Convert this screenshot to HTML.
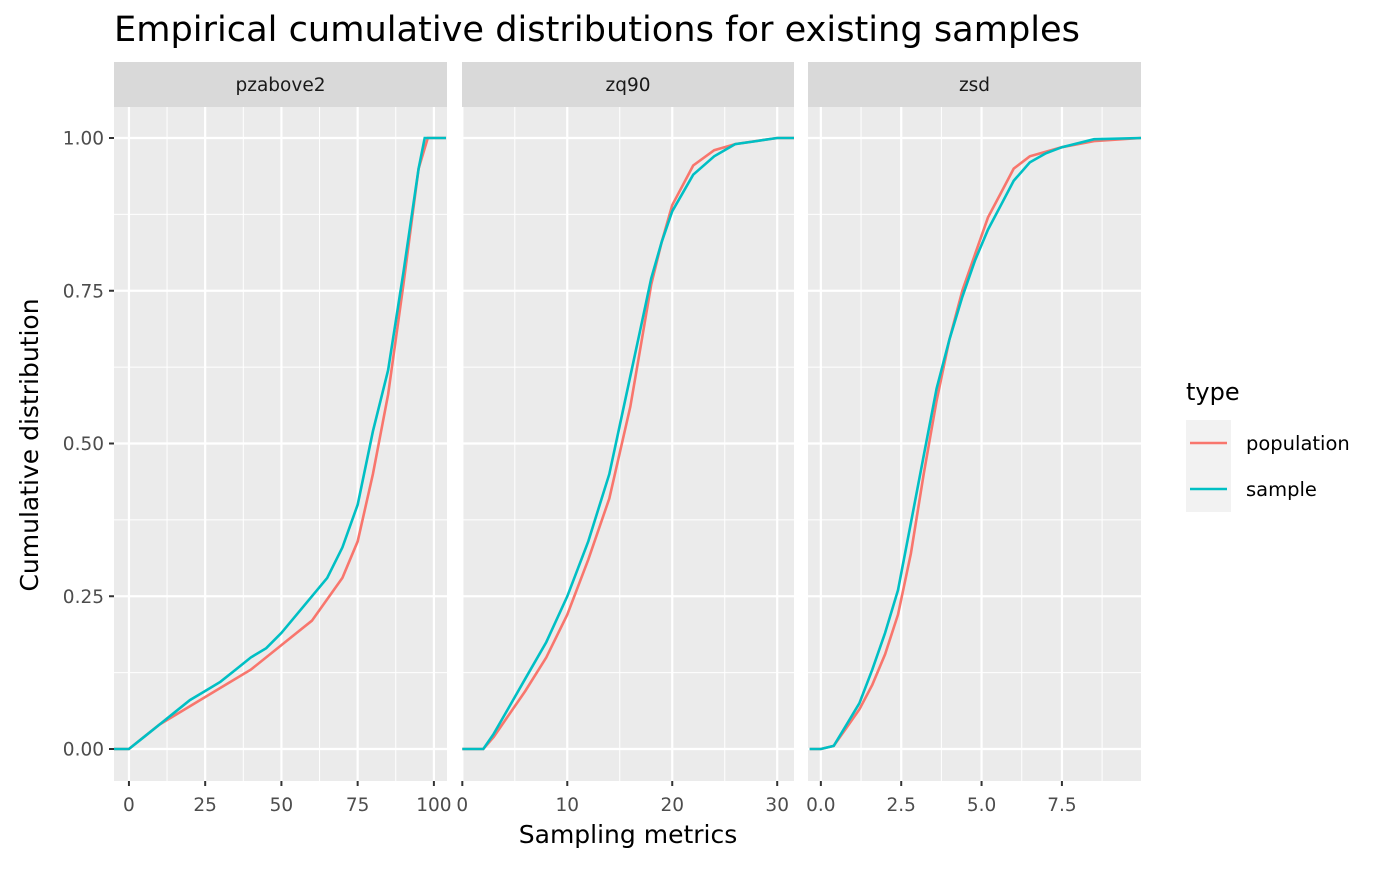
<!DOCTYPE html>
<html><head><meta charset="utf-8"><style>
body{margin:0;background:#fff}
svg text{font-family:"DejaVu Sans","Liberation Sans",sans-serif}
</style></head><body>
<svg id="chart" width="1400" height="865" xmlns="http://www.w3.org/2000/svg">
<text x="114" y="41" font-size="35" textLength="966" lengthAdjust="spacingAndGlyphs" fill="#000">Empirical cumulative distributions for existing samples</text>
<text transform="translate(38,445) rotate(-90)" text-anchor="middle" font-size="25" fill="#000">Cumulative distribution</text>
<text x="628" y="843" text-anchor="middle" font-size="25" fill="#000">Sampling metrics</text>
<g>
<text x="1186" y="400" font-size="24" fill="#000">type</text>
<rect x="1186" y="420" width="45" height="46" fill="#f2f2f2"/>
<rect x="1186" y="466" width="45" height="46" fill="#f2f2f2"/>
<line x1="1190" x2="1227" y1="443" y2="443" stroke="#F8766D" stroke-width="2.5"/>
<line x1="1190" x2="1227" y1="489" y2="489" stroke="#00BFC4" stroke-width="2.5"/>
<text x="1246" y="450" font-size="19.5" fill="#000">population</text>
<text x="1246" y="496" font-size="19.5" fill="#000">sample</text>
</g>
<g id="panels"></g>
</svg>
<script>
const yTicks=[0,0.25,0.5,0.75,1];
const yTickLabels=["0.00","0.25","0.50","0.75","1.00"];
const panelNames=["pzabove2","zq90","zsd"];
const xTicks1=[0,25,50,75,100];const xLabels1=["0","25","50","75","100"];
const xTicks2=[0,10,20,30];const xLabels2=["0","10","20","30"];
const xTicks3=[0,2.5,5,7.5];const xLabels3=["0.0","2.5","5.0","7.5"];
const pop1X=[-5,0,10,20,30,40,50,60,70,75,80,85,90,95,98,104];
const pop1Y=[0,0,0.04,0.07,0.1,0.13,0.17,0.21,0.28,0.34,0.45,0.58,0.76,0.95,1,1];
const smp1X=[-5,0,5,10,15,20,25,30,35,40,45,50,55,60,65,70,75,80,85,90,95,97,104];
const smp1Y=[0,0,0.02,0.04,0.06,0.08,0.095,0.11,0.13,0.15,0.165,0.19,0.22,0.25,0.28,0.33,0.4,0.52,0.62,0.78,0.95,1,1];
const pop2X=[0,2,3,4,6,8,10,12,14,16,17,18,19,20,22,24,26,30,31.6];
const pop2Y=[0,0,0.02,0.045,0.095,0.15,0.22,0.31,0.41,0.56,0.66,0.76,0.83,0.89,0.955,0.98,0.99,1,1];
const smp2X=[0,2,3,4,6,8,10,12,14,15,16,17,18,19,20,22,24,26,28,30,31.6];
const smp2Y=[0,0,0.025,0.055,0.115,0.175,0.25,0.34,0.45,0.53,0.61,0.69,0.77,0.83,0.88,0.94,0.97,0.99,0.995,1,1];
const pop3X=[-0.35,0,0.4,0.8,1.2,1.6,2,2.4,2.8,3.2,3.6,4,4.4,4.8,5.2,5.6,6,6.5,7.5,8.5,9.96];
const pop3Y=[0,0,0.005,0.035,0.065,0.105,0.155,0.22,0.32,0.45,0.57,0.67,0.75,0.81,0.87,0.91,0.95,0.97,0.985,0.995,1];
const smp3X=[-0.35,0,0.4,0.8,1.2,1.6,2,2.4,2.8,3.2,3.6,4,4.4,4.8,5.2,5.6,6,6.5,7,7.5,8.5,9.96];
const smp3Y=[0,0,0.005,0.04,0.075,0.13,0.19,0.26,0.37,0.48,0.59,0.67,0.74,0.8,0.85,0.89,0.93,0.96,0.975,0.985,0.998,1];

const NS="http://www.w3.org/2000/svg";
const pTop=107,pBot=781;
const yS=v=>749-v*611;
const panels=[
 {left:114,right:447,x0:-4.9,x1:104.3,ticks:xTicks1,labels:xLabels1,pop:[pop1X,pop1Y],smp:[smp1X,smp1Y]},
 {left:462,right:794,x0:-0.03,x1:31.6,ticks:xTicks2,labels:xLabels2,pop:[pop2X,pop2Y],smp:[smp2X,smp2Y]},
 {left:808,right:1141,x0:-0.4,x1:9.96,ticks:xTicks3,labels:xLabels3,pop:[pop3X,pop3Y],smp:[smp3X,smp3Y]}
];
const g=document.getElementById('panels');
function mk(tag,attrs,parent){const e=document.createElementNS(NS,tag);for(const k in attrs)e.setAttribute(k,attrs[k]);(parent||g).appendChild(e);return e;}
panels.forEach((p,i)=>{
 const xS=v=>p.left+(v-p.x0)/(p.x1-p.x0)*(p.right-p.left);
 const clip=v=>Math.max(p.left,Math.min(p.right,v));
 const grp=mk('g',{});
 
 
 const bg=mk('rect',{x:p.left,y:pTop,width:p.right-p.left,height:pBot-pTop,fill:'#ebebeb'},grp);
 
 
 const st=mk('rect',{x:p.left,y:62,width:p.right-p.left,height:45,fill:'#d9d9d9'},grp);
 
 
 const stt=mk('text',{x:(p.left+p.right)/2,y:91,'text-anchor':'middle','font-size':18.5,fill:'#1a1a1a'},grp);
 stt.textContent=panelNames[i];
 
 
 for(let k=0;k<yTicks.length-1;k++){const v=(yTicks[k]+yTicks[k+1])/2;mk('line',{x1:p.left,x2:p.right,y1:yS(v),y2:yS(v),stroke:'#fff','stroke-width':1},grp);}
 const step=p.ticks[1]-p.ticks[0];
 for(let v=p.ticks[0]-step/2;v<=p.x1;v+=step){if(v<p.x0)continue;mk('line',{x1:xS(v),x2:xS(v),y1:pTop,y2:pBot,stroke:'#fff','stroke-width':1},grp);}
 yTicks.forEach(v=>mk('line',{x1:p.left,x2:p.right,y1:yS(v),y2:yS(v),stroke:'#fff','stroke-width':2.2},grp));
 p.ticks.forEach((v,j)=>{
  const x=xS(v);
  mk('line',{x1:x,x2:x,y1:pTop,y2:pBot,stroke:'#fff','stroke-width':2.2},grp);
  mk('line',{x1:x,x2:x,y1:pBot,y2:pBot+5,stroke:'#333','stroke-width':2},grp);
  const t=mk('text',{x:x,y:811,'text-anchor':'middle','font-size':18.5,fill:'#4d4d4d'},grp);
  t.textContent=p.labels[j];
  
  
 });
 [['pop','#F8766D'],['smp','#00BFC4']].forEach(([k,c])=>{
  const [xs,ys]=p[k];
  const pts=xs.map((x,j)=>clip(xS(x)).toFixed(1)+','+yS(ys[j]).toFixed(1)).join(' ');
  const l=mk('polyline',{points:pts,fill:'none',stroke:c,'stroke-width':2.6},grp);
  
  
 });
});
yTicks.forEach((v,j)=>{
 mk('line',{x1:109,x2:114,y1:yS(v),y2:yS(v),stroke:'#333','stroke-width':2});
 const t=mk('text',{x:104,y:yS(v)+6.5,'text-anchor':'end','font-size':18.5,fill:'#4d4d4d'});
 t.textContent=yTickLabels[j];
 
 
});
</script>
</body></html>
